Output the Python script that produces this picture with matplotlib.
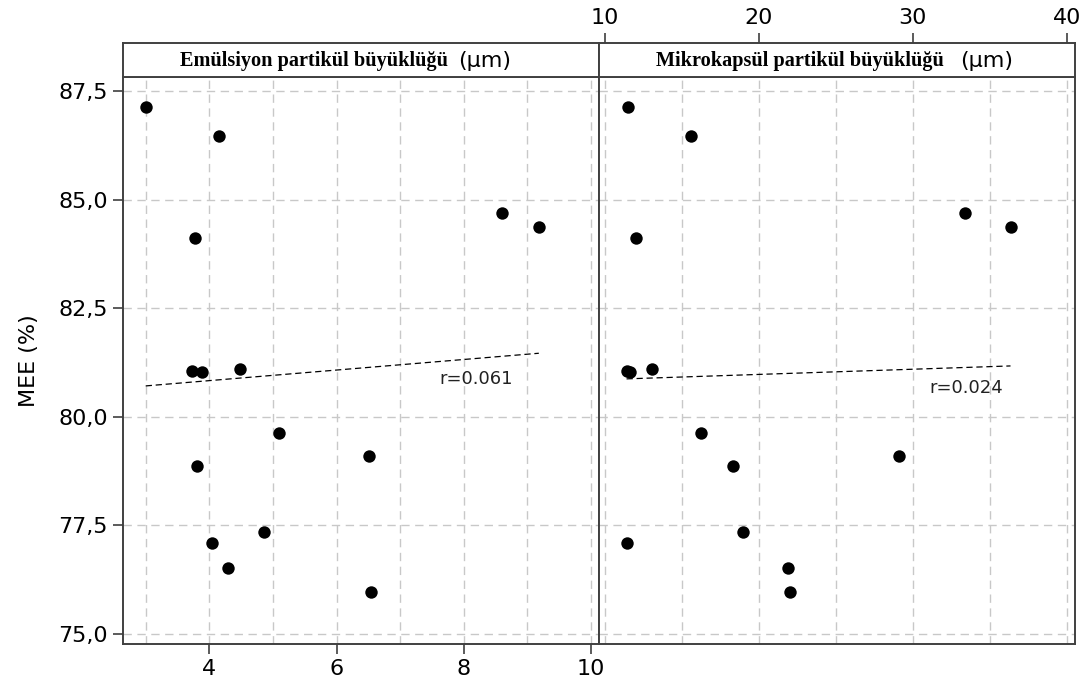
import matplotlib.pyplot as plt
import numpy as np

# MEE (%) per sample, with emulsion and microcapsule particle size (µm)
mee = [87.13, 86.46, 84.11, 84.69, 84.36, 81.05, 81.02, 81.09, 79.62, 78.85,
       77.09, 77.34, 76.51, 79.09, 75.95]
emulsion_size = [3.00, 4.15, 3.78, 8.60, 9.18, 3.72, 3.88, 4.49, 5.10, 3.81,
                 4.04, 4.86, 4.29, 6.51, 6.54]
capsule_size = [11.49, 15.59, 12.01, 33.40, 36.35, 11.40, 11.60, 13.05, 16.24, 18.30,
                11.43, 18.97, 21.90, 29.10, 22.00]

r_labels = ['r=0.061', 'r=0.024']
strip_titles = ['Emülsiyon partikül büyüklüğü', 'Mikrokapsül partikül büyüklüğü']
y_ticks = [75.0, 77.5, 80.0, 82.5, 85.0, 87.5]

frame = '#404040'
grid_c = '#c8c8c8'

fig = plt.figure(figsize=(10.86, 6.83), dpi=100)
left, mid, right = 123 / 1086, 599 / 1086, 1075 / 1086
bottom, top, strip_top = 1 - 644 / 683, 1 - 76.7 / 683, 1 - 43.3 / 683

ax1 = fig.add_axes([left, bottom, mid - left, top - bottom])
ax2 = fig.add_axes([mid, bottom, right - mid, top - bottom], sharey=ax1)
s1 = fig.add_axes([left, top, mid - left, strip_top - top])
s2 = fig.add_axes([mid, top, right - mid, strip_top - top])

ax1.set_xlim(2.643, 10.126)
ax2.set_xlim(9.61, 40.54)
ax1.set_ylim(74.76, 87.83)

for ax, xs, grid_x, r_txt, r_pos in [
        (ax1, emulsion_size, np.arange(3, 11, 1), r_labels[0], (8.19, 80.86)),
        (ax2, capsule_size, np.arange(10, 41, 5), r_labels[1], (33.46, 80.66))]:
    for g in grid_x:
        ax.axvline(g, color=grid_c, lw=1, ls=(0, (6, 4)), zorder=0)
    for g in y_ticks:
        ax.axhline(g, color=grid_c, lw=1, ls=(0, (6, 4)), zorder=0)
    ax.scatter(xs, mee, s=80, color='black', zorder=3, linewidths=0)
    # least squares fit over the data range
    b, a = np.polyfit(xs, mee, 1)
    fx = np.array([min(xs), max(xs)])
    ax.plot(fx, a + b * fx, color='black', lw=0.9, ls=(0, (5, 3)), zorder=2)
    ax.text(r_pos[0], r_pos[1], r_txt, fontsize=13, color='#222222',
            ha='center', va='center')
    for sp in ax.spines.values():
        sp.set_color(frame)
        sp.set_linewidth(1.4)

ax1.set_xticks([4, 6, 8, 10])
ax1.set_xticklabels(['4', '6', '8', '10'])
ax1.set_yticks(y_ticks)
ax1.set_yticklabels([f'{v:.1f}'.replace('.', ',') for v in y_ticks])
ax1.tick_params(axis='both', direction='out', length=7, width=1.2, color=frame,
                labelsize=16, pad=4)
ax1.set_ylabel('MEE (%)', fontsize=16, labelpad=14)
ax2.tick_params(left=False, labelleft=False, bottom=False, labelbottom=False)

for s, ax in [(s1, ax1), (s2, ax2)]:
    s.set_xlim(ax.get_xlim())
    s.set_ylim(0, 1)
    s.set_yticks([])
    for sp in s.spines.values():
        sp.set_color(frame)
        sp.set_linewidth(1.4)
s1.set_xticks([])
s2.xaxis.tick_top()
s2.set_xticks([10, 20, 30, 40])
s2.tick_params(axis='x', direction='out', length=7, width=1.2, color=frame,
               labelsize=16, pad=4)

fig.text(314 / 1086, 1 - 61 / 683, strip_titles[0], family='Liberation Serif',
         weight='bold', fontsize=14.6, ha='center', va='center')
fig.text(485 / 1086, 1 - 61 / 683, '(µm)', fontsize=16, ha='center', va='center')
fig.text(800 / 1086, 1 - 61 / 683, strip_titles[1], family='Liberation Serif',
         weight='bold', fontsize=14.6, ha='center', va='center')
fig.text(986.5 / 1086, 1 - 61 / 683, '(µm)', fontsize=16, ha='center', va='center')

fig.savefig('out.png', dpi=100)
